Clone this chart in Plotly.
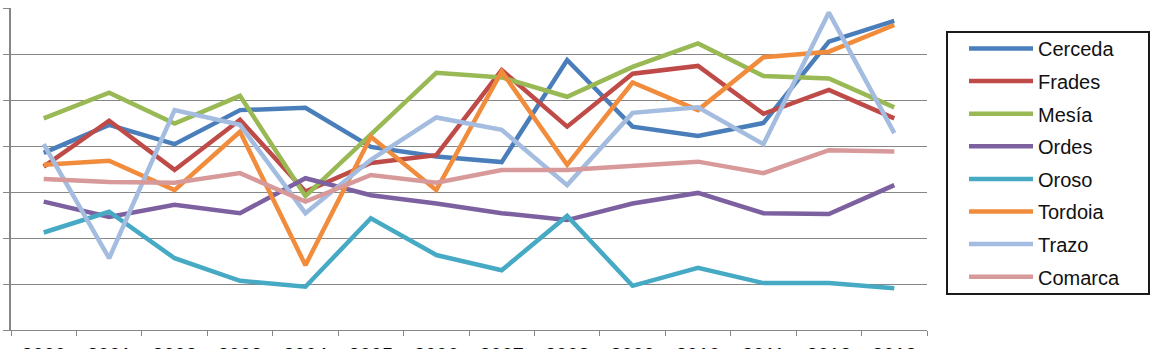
import plotly.graph_objects as go

years = [str(y) for y in range(2000, 2014)]

cerceda = [3.85, 4.46, 4.04, 4.78, 4.83, 3.98, 3.77, 3.65, 5.87, 4.42, 4.22, 4.50, 6.27, 6.72]
frades = [3.55, 4.55, 3.48, 4.57, 3.01, 3.63, 3.80, 5.65, 4.42, 5.57, 5.74, 4.70, 5.22, 4.60]
mesia = [4.60, 5.16, 4.49, 5.09, 2.91, 4.24, 5.59, 5.49, 5.07, 5.72, 6.23, 5.52, 5.47, 4.84]
ordes = [2.79, 2.46, 2.72, 2.54, 3.30, 2.93, 2.75, 2.54, 2.39, 2.75, 2.98, 2.54, 2.52, 3.15]
oroso = [2.12, 2.57, 1.56, 1.07, 0.94, 2.43, 1.63, 1.30, 2.48, 0.96, 1.35, 1.02, 1.02, 0.91]
tordoia = [3.59, 3.68, 3.04, 4.31, 1.41, 4.20, 3.04, 5.62, 3.59, 5.38, 4.78, 5.93, 6.05, 6.63]
trazo = [4.04, 1.56, 4.78, 4.46, 2.54, 3.70, 4.62, 4.35, 3.15, 4.72, 4.84, 4.04, 6.90, 4.28]
comarca = [3.28, 3.22, 3.20, 3.41, 2.79, 3.37, 3.20, 3.48, 3.48, 3.57, 3.66, 3.41, 3.91, 3.88]

series_names = ["Cerceda", "Frades", "Mesía", "Ordes", "Oroso", "Tordoia", "Trazo", "Comarca"]
series_values = [cerceda, frades, mesia, ordes, oroso, tordoia, trazo, comarca]
colors = ["#4A7EBB", "#BE4B48", "#98B954", "#7D60A0", "#46AAC5", "#F08C3C", "#A3BCE0", "#D8999A"]

fig = go.Figure()
for name, vals, col in zip(series_names, series_values, colors):
    fig.add_trace(go.Scatter(
        x=years, y=vals, name=name, mode="lines", legendgroup=name,
        line=dict(color=col, width=4.5),
    ))

# plot area in pixels: x 11..927, y 8..330
PX0, PX1, PY0, PY1 = 11, 927, 8, 330
def px(x):
    return (x - PX0) / (PX1 - PX0)
def py(y):
    return (PY1 - y) / (PY1 - PY0)

grid = "#868686"
fig.update_layout(
    width=1156, height=349,
    margin=dict(l=PX0, r=1156 - PX1, t=PY0, b=349 - PY1, autoexpand=False),
    paper_bgcolor="white", plot_bgcolor="white",
    font=dict(family="Liberation Sans, Arial, sans-serif", size=20, color="#000000"),
    showlegend=True,
    legend=dict(
        x=px(964), xanchor="left",
        y=py(29), yanchor="top",
        borderwidth=0, bgcolor="rgba(0,0,0,0)",
        font=dict(size=20, color="#111111"),
        tracegroupgap=3.6, itemwidth=64,
    ),
    shapes=[dict(
        type="rect", xref="paper", yref="paper",
        x0=px(947), x1=px(1149), y0=py(294), y1=py(32),
        line=dict(color="#1a1a1a", width=2), fillcolor="rgba(0,0,0,0)", layer="below",
    )],
    xaxis=dict(
        type="category", range=[-0.5, 13.5], showgrid=False, showline=True,
        linecolor=grid, linewidth=1,
        ticks="outside", tickson="boundaries", ticklen=5, tickcolor=grid,
        tickfont=dict(size=20, color="#000000"), automargin=False,
        ticklabelstandoff=7,
    ),
    yaxis=dict(
        range=[0, 7], dtick=1, showgrid=True, gridcolor=grid, gridwidth=1,
        showline=True, linecolor=grid, linewidth=1.5, ticks="outside", ticklen=6,
        tickcolor=grid, showticklabels=False, zeroline=False, automargin=False,
    ),
)

fig.write_html("out.html")
